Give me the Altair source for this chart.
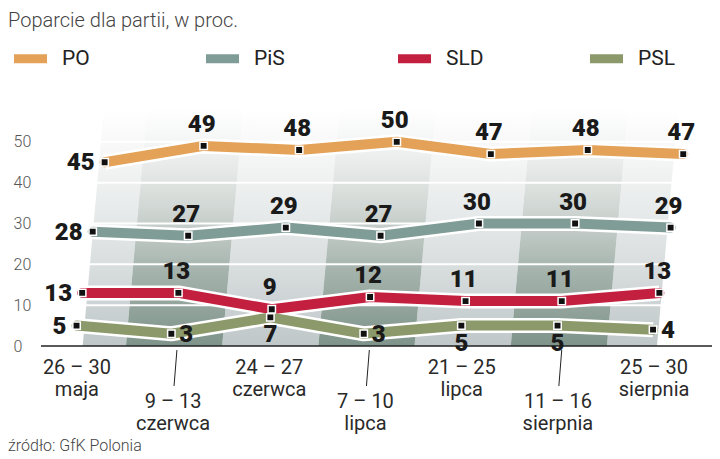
import altair as alt
import pandas as pd

TITLE = "Poparcie dla partii, w proc."
SOURCE = "źródło: GfK Polonia"
DATES = ["26 – 30", "9 – 13", "24 – 27", "7 – 10", "21 – 25", "11 – 16", "25 – 30"]
MONTHS = ["maja", "czerwca", "czerwca", "lipca", "lipca", "sierpnia", "sierpnia"]
PARTIES = ["PO", "PiS", "SLD", "PSL"]
COLORS = ["#e3a257", "#7f9c96", "#c3203f", "#8c9a6b"]
PO = [45, 49, 48, 50, 47, 48, 47]
PIS = [28, 27, 29, 27, 30, 30, 29]
SLD = [13, 13, 9, 12, 11, 11, 13]
PSL = [5, 3, 7, 3, 5, 5, 4]
# label placement: L=left, A=above, R=right, B=below
SIDE_PO = ["L", "A", "A", "A", "A", "A", "A"]
SIDE_PIS = ["L", "A", "A", "A", "A", "A", "A"]
SIDE_SLD = ["L", "A", "A", "A", "A", "A", "A"]
SIDE_PSL = ["L", "R", "B", "R", "B", "B", "R"]
Y_TICKS = [0, 10, 20, 30, 40, 50]
GRID = [10, 20, 30, 40, 50]

SKEW = 0.0073       # pseudo-3D slant of the series (index units per %)
BAND_SKEW = 0.0038  # slant of background columns
FONT = "Roboto"

series = {"PO": (PO, SIDE_PO), "PiS": (PIS, SIDE_PIS), "SLD": (SLD, SIDE_SLD), "PSL": (PSL, SIDE_PSL)}
rows = []
for p in PARTIES:
    vals, sides = series[p]
    for i, (v, s) in enumerate(zip(vals, sides)):
        rows.append({"party": p, "i": i, "value": v, "side": s})
df = pd.DataFrame(rows)

n = len(DATES)
band_rows = []
for b in range(n):
    left = max(b - 0.45, 0.1)
    right = min(b + 0.55, n - 0.93)
    for yv in [0, 58]:
        band_rows.append({"band": b, "dark": b % 2, "y": yv,
                          "xl": left + BAND_SKEW * yv, "xr": right + BAND_SKEW * yv})
bands = pd.DataFrame(band_rows)

cats = pd.DataFrame({"i": list(range(n)), "date": DATES, "month": MONTHS})
cats["label"] = cats["date"] + "\n" + cats["month"]
cats["odd"] = cats["i"] % 2

X_SCALE = alt.Scale(domain=[-0.333, 6.642], nice=False, zero=False)
Y_SCALE = alt.Scale(domain=[0, 60], nice=False, zero=True)
Y_AXIS = alt.Axis(values=Y_TICKS, grid=False, domain=False, ticks=False, tickSize=0,
                  labelAlign="left", labelPadding=28, labelFont=FONT, labelFontSize=16,
                  labelFontWeight=300, labelColor="#555", title=None, labelBaseline="middle")


def grad(stops):
    return alt.LinearGradient(gradient="linear", x1=0, x2=0, y1=1, y2=0,
                              stops=[alt.GradientStop(color=c, offset=o) for o, c in stops])


band_base = alt.Chart(bands)
dark_bands = band_base.transform_filter("datum.dark == 1").mark_area(
    orient="horizontal",
    color=grad([(0, "#7e948a"), (0.3, "#a3b1ab"), (0.6, "#d3d9d6"), (0.85, "#f3f4f4"), (1, "#ffffff")])).encode(
    y=alt.Y("y:Q", scale=Y_SCALE, axis=Y_AXIS),
    x=alt.X("xl:Q", scale=X_SCALE, axis=None, stack=None),
    x2="xr:Q", detail="band:N")
light_bands = band_base.transform_filter("datum.dark == 0").mark_area(
    orient="horizontal",
    color=grad([(0, "#bfc7c9"), (0.3, "#d6dbdc"), (0.6, "#e9ecec"), (0.85, "#f8f8f8"), (1, "#ffffff")])).encode(
    y=alt.Y("y:Q", scale=Y_SCALE, axis=Y_AXIS),
    x=alt.X("xl:Q", scale=X_SCALE, axis=None, stack=None),
    x2="xr:Q", detail="band:N")

grid = alt.Chart(pd.DataFrame({"g": GRID})).mark_rule(color="white", strokeWidth=2).encode(
    y=alt.Y("g:Q", scale=Y_SCALE, axis=Y_AXIS))

baseline = alt.Chart(pd.DataFrame({"g": [Y_TICKS[0]]})).mark_rule(color="#222", strokeWidth=1.5).encode(
    y=alt.Y("g:Q", scale=Y_SCALE, axis=Y_AXIS))

leaders = alt.Chart(cats).transform_filter("datum.odd == 1").transform_calculate(
    lx="datum.i + 0.08", lx2="datum.i + 0.05").mark_rule(color="#222", strokeWidth=1).encode(
    x=alt.X("lx:Q", scale=X_SCALE, axis=None), x2="lx2:Q",
    y=alt.value(249), y2=alt.value(285))

xlab_base = alt.Chart(cats).transform_calculate(lx="datum.i + 0.04")
xlab_even = xlab_base.transform_filter("datum.odd == 0").mark_text(
    font=FONT, fontSize=20, color="#2a2a2a", lineBreak="\n", lineHeight=22,
    baseline="top", align="center").encode(
    x=alt.X("lx:Q", scale=X_SCALE, axis=None), y=alt.value(257), text="label:N")
xlab_odd = xlab_base.transform_filter("datum.odd == 1").mark_text(
    font=FONT, fontSize=20, color="#2a2a2a", lineBreak="\n", lineHeight=22,
    baseline="top", align="center").encode(
    x=alt.X("lx:Q", scale=X_SCALE, axis=None), y=alt.value(291), text="label:N")

base = alt.Chart(df).transform_calculate(xp=f"datum.i + {SKEW} * datum.value")
X_ENC = alt.X("xp:Q", scale=X_SCALE, axis=None)
Y_ENC = alt.Y("value:Q", scale=Y_SCALE, axis=Y_AXIS)

outline = base.mark_line(color="white", strokeWidth=15, strokeJoin="round").encode(
    x=X_ENC, y=Y_ENC, detail="party:N", order="i:Q")

legend = alt.Legend(orient="none", legendX=-37, legendY=-69, direction="horizontal", title=None,
                    symbolType="M-0.75,0L0.75,0", symbolSize=1936, symbolStrokeWidth=9,
                    labelFont=FONT, labelFontSize=21, labelColor="#222", labelOffset=5,
                    columnPadding=88, gridAlign="all")
lines = base.mark_line(strokeWidth=10, strokeJoin="round", strokeCap="round").encode(
    x=X_ENC, y=Y_ENC,
    color=alt.Color("party:N", scale=alt.Scale(domain=PARTIES, range=COLORS), legend=legend),
    order="i:Q")

markers = base.mark_point(shape="square", filled=True, size=55, fill="#111", stroke="white",
                          strokeWidth=1.5, opacity=1).encode(x=X_ENC, y=Y_ENC)

TXT = dict(font=FONT, fontSize=24, fontWeight=900, color="#1a1a1a")
lab_L = base.transform_filter("datum.side == 'L'").mark_text(
    align="right", baseline="middle", dx=-10, dy=1, **TXT).encode(x=X_ENC, y=Y_ENC, text="value:Q")
lab_A = base.transform_filter("datum.side == 'A'").mark_text(
    align="center", baseline="alphabetic", dx=-2, dy=-14, **TXT).encode(x=X_ENC, y=Y_ENC, text="value:Q")
lab_R = base.transform_filter("datum.side == 'R'").mark_text(
    align="left", baseline="middle", dx=8, dy=1, **TXT).encode(x=X_ENC, y=Y_ENC, text="value:Q")
lab_B = base.transform_filter("datum.side == 'B'").mark_text(
    align="center", baseline="top", dx=0, dy=6, **TXT).encode(x=X_ENC, y=Y_ENC, text="value:Q")

title = alt.Chart(pd.DataFrame({"t": [TITLE]})).mark_text(
    font=FONT, fontSize=20, fontWeight=300, color="#444", align="left", baseline="middle").encode(
    x=alt.value(-33), y=alt.value(-80), text="t:N")
source = alt.Chart(pd.DataFrame({"t": [SOURCE]})).mark_text(
    font=FONT, fontSize=16, fontWeight=300, color="#444", align="left", baseline="middle").encode(
    x=alt.value(-33), y=alt.value(345), text="t:N")

chart = alt.layer(
    light_bands, dark_bands, grid, baseline, leaders, xlab_even, xlab_odd,
    outline, lines, markers, lab_L, lab_A, lab_R, lab_B, title, source
).properties(
    width=671, height=245,
    padding={"left": 33, "top": 93, "right": 0, "bottom": 112},
    autosize=alt.AutoSizeParams(type="none"),
).configure_view(stroke=None)

chart.save("out.html", embed_options={"renderer": "svg", "actions": False})
